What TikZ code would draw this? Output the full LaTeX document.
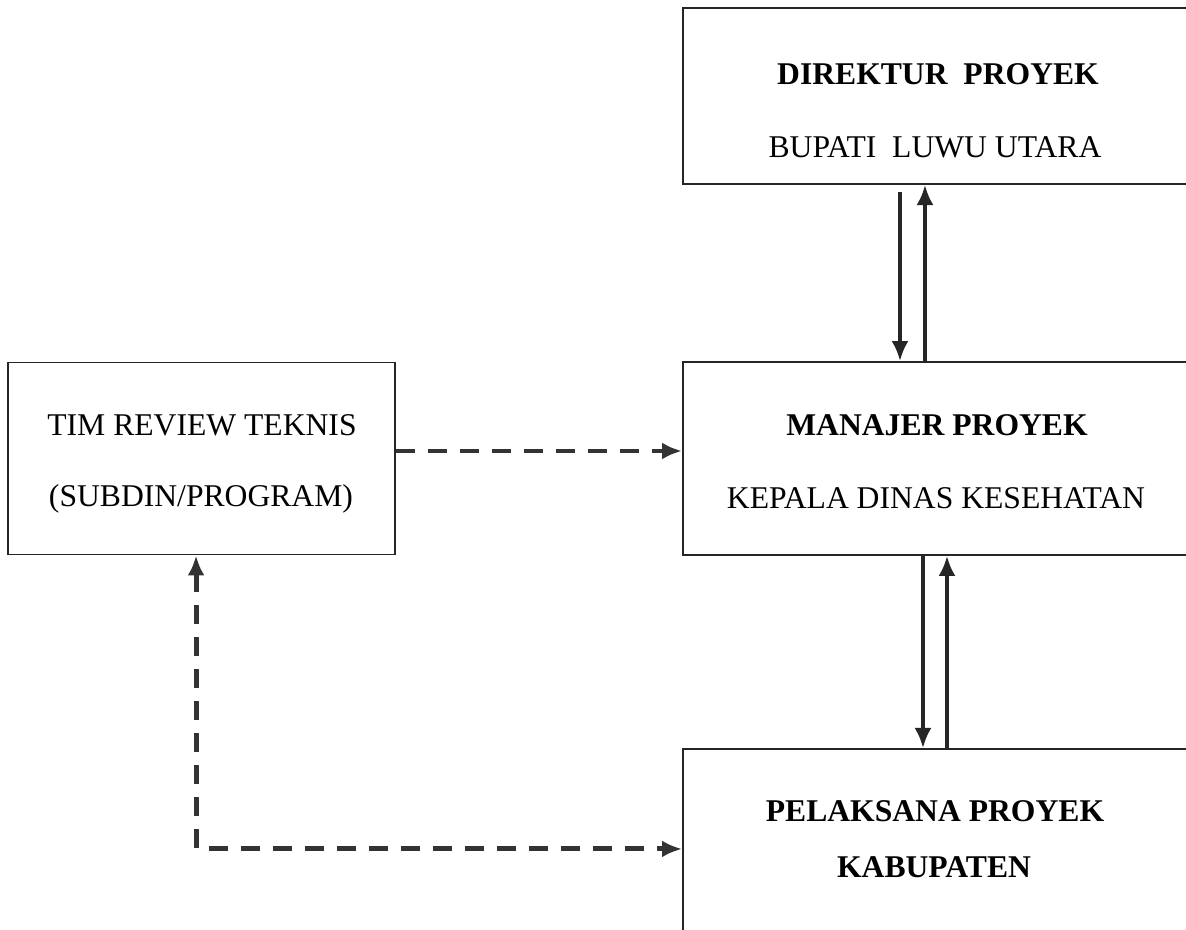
\documentclass[tikz,border=0pt]{standalone}
\usepackage{fontspec}
\setmainfont{Liberation Serif}
\usetikzlibrary{positioning, arrows.meta}

\begin{document}
\begin{tikzpicture}[
mybox/.style 2 args={rectangle,
  draw=black!85,
  line width=1.1pt,
  minimum width=#1,
  minimum height=#2,
  inner sep=0pt,
},
mytitle/.style={anchor=base,
  inner sep=0pt,
  font=\fontsize{18}{22}\selectfont\bfseries,
},
mytext/.style={anchor=base,
  inner sep=0pt,
  font=\fontsize{18}{22}\selectfont,
},
solidarrow/.style={->,
  line width=2pt,
  black!85,
},
dasharrow/.style={
  line width=2.8pt,
  black!80,
  dash pattern=on 0.38cm off 0.26cm,
},
>={Latex[length=0.4cm,width=0.34cm]}
]
\useasboundingbox[fill=white] (0,0) rectangle (23.72,-18.6);
\clip (0,0) rectangle (23.72,-18.6);

\node[mybox={10.4cm}{3.86cm}] (mgr) at (18.86,-9.17) {};
\node[mybox={10.4cm}{3.52cm}, above=3.52cm of mgr] (dir) {};
\node[mybox={10.4cm}{4cm}, below=3.84cm of mgr] (pel) {};
\node[mybox={7.74cm}{3.84cm}, left=5.72cm of mgr] (tim) {};

\node[mytitle] (dirA) at (18.76,-1.70) {DIREKTUR\ \ PROYEK};
\node[mytext] (dirB) at (18.70,-3.16) {BUPATI\ \ LUWU UTARA};
\node[mytitle] (mgrA) at (18.74,-8.72) {MANAJER PROYEK};
\node[mytext] (mgrB) at (18.72,-10.18) {KEPALA DINAS KESEHATAN};
\node[mytitle] (pelA) at (18.70,-16.42) {PELAKSANA PROYEK};
\node[mytitle] (pelB) at (18.68,-17.54) {KABUPATEN};
\node[mytext] (timA) at (4.04,-8.72) {TIM REVIEW TEKNIS};
\node[mytext] (timB) at (4.02,-10.14) {(SUBDIN/PROGRAM)};

\draw[solidarrow] ([xshift=-0.86cm,yshift=-0.14cm]dir.south) -- ([xshift=-0.86cm]mgr.north);
\draw[solidarrow] ([xshift=-0.36cm]mgr.north) -- ([xshift=-0.36cm]dir.south);
\draw[solidarrow] ([xshift=-0.4cm]mgr.south) -- ([xshift=-0.4cm]pel.north);
\draw[solidarrow] ([xshift=0.08cm]pel.north) -- ([xshift=0.08cm]mgr.south);

\draw[dasharrow, ->] ([yshift=0.15cm]tim.east) -- ([yshift=0.15cm]mgr.west);
\draw[dasharrow, <->] ([xshift=-0.11cm]tim.south) |- (pel.west);
\end{tikzpicture}
\end{document}
